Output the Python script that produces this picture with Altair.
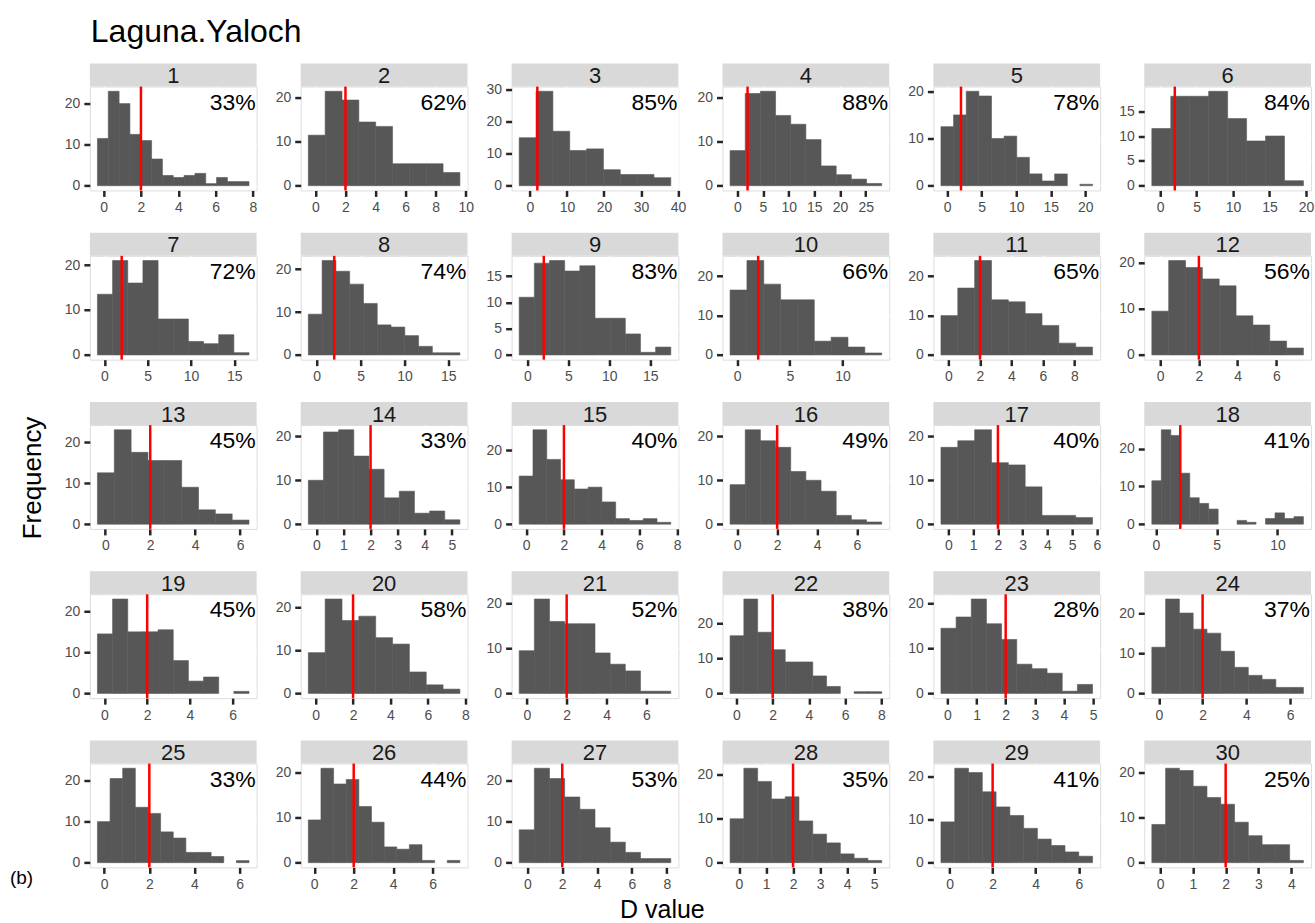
import altair as alt
import pandas as pd

# ---------------- data ----------------
PANELS = list(range(1, 31))
PCT = [33, 62, 85, 88, 78, 84, 72, 74, 83, 66, 65, 56, 45, 33, 40,
       49, 40, 41, 45, 58, 52, 38, 28, 37, 33, 44, 53, 35, 41, 25]
BIN_START = [-0.33, -0.47, -2.9, -1.4, -0.9, -1.15, -0.8, -0.95, -1.0, -0.67,
             -0.48, -0.43, -0.35, -0.3, -0.37, -0.36, -0.3, -0.34, -0.33, -0.39,
             -0.38, -0.35, -0.22, -0.32, -0.3, -0.3, -0.47, -0.33, -0.4, -0.25]
BIN_WIDTH = [0.58, 1.12, 4.55, 2.95, 1.83, 2.6, 1.75, 1.57, 1.85, 1.6,
             1.07, 0.87, 0.75, 0.56, 0.73, 0.76, 0.68, 0.78, 0.71, 0.9,
             0.76, 0.76, 0.52, 0.63, 0.56, 0.64, 0.87, 0.51, 0.64, 0.42]
COUNTS = [
    [11.5, 23, 20, 12.5, 11, 6.5, 2.5, 2, 2.5, 3, 0.5, 2, 1, 1],
    [11.5, 21.5, 19.5, 14.5, 13.5, 5, 5, 5, 3],
    [15, 29.5, 17, 11, 11.5, 5, 3.5, 3.5, 2.5],
    [8, 21, 21.5, 16, 14, 10.5, 4.5, 2.5, 1.5, 0.5],
    [12.5, 15, 20, 19, 10, 10.5, 6, 2.5, 1, 2.5, 0, 0.3],
    [11.5, 18, 18, 19, 13.5, 9, 10, 1],
    [13.5, 21, 16, 21, 8, 8, 3, 2.5, 4.5, 0.5],
    [9.5, 22, 19.5, 16.5, 12, 7, 6.5, 4.5, 2, 0.5, 0.5],
    [11, 17.5, 18, 16, 17, 7, 7, 4, 0.5, 1.5],
    [16.5, 24, 18, 14, 14, 3.5, 4.5, 2, 0.5],
    [10, 17, 24, 14, 13.5, 10.5, 7.5, 3, 2],
    [9.5, 20.5, 19, 16.5, 15, 8.5, 6.5, 3, 1.5],
    [12.5, 23, 17.5, 15.5, 15.5, 9, 3.5, 2.5, 1],
    [10, 21, 21.5, 15.5, 12.5, 6, 7.5, 2.5, 3, 1],
    [13, 25.5, 17.5, 12, 9.5, 10, 6, 1.5, 1, 1.5, 0.5],
    [9, 21.5, 19, 17.5, 12, 10, 7.5, 2, 1, 0.5],
    [17.5, 19, 21.5, 14, 13.5, 8.5, 2, 2, 1.5],
    [11.5, 25, 23.5, 13.5, 7, 5.5, 4, 0, 0, 1, 0.5, 0, 1.5, 3, 1.5, 2],
    [14.5, 23, 15, 15, 15.5, 8, 3, 4, 0, 0.5],
    [9.5, 22, 17, 18, 13, 11.5, 5, 2, 1],
    [9.5, 21, 16, 15.5, 15.5, 9, 6.5, 5, 0.5, 0.5],
    [16.5, 27, 17.5, 12.5, 9, 9, 5, 2, 0, 0.5, 0.5],
    [14.5, 17, 21, 15.5, 12, 6.5, 5.5, 4.5, 0.5, 2],
    [11.5, 23.5, 20, 16, 15, 10.5, 6.5, 4.5, 3.5, 1.5, 1.5],
    [10, 20.5, 23, 13.5, 12, 7.5, 6, 2.5, 2.5, 1.5, 0, 0.5],
    [9.5, 21, 17.5, 18.5, 12.5, 9, 3.5, 3, 4, 0.5, 0, 0.5],
    [8, 23, 20.5, 16, 13, 8.5, 5, 2.5, 1, 1],
    [10, 21.5, 18.5, 14.5, 15, 9.5, 6.5, 4.5, 2, 1, 0.5],
    [9.5, 22, 21, 16.5, 13, 11, 8, 5.5, 4, 2.5, 1.5],
    [8.5, 21, 20.5, 17, 14.5, 13, 9, 6, 4, 4, 0.5],
]
X_TICKS = [
    [0, 2, 4, 6, 8], [0, 2, 4, 6, 8, 10], [0, 10, 20, 30, 40], [0, 5, 10, 15, 20, 25],
    [0, 5, 10, 15, 20], [0, 5, 10, 15, 20],
    [0, 5, 10, 15], [0, 5, 10, 15], [0, 5, 10, 15], [0, 5, 10], [0, 2, 4, 6, 8], [0, 2, 4, 6],
    [0, 2, 4, 6], [0, 1, 2, 3, 4, 5], [0, 2, 4, 6, 8], [0, 2, 4, 6], [0, 1, 2, 3, 4, 5, 6], [0, 5, 10],
    [0, 2, 4, 6], [0, 2, 4, 6, 8], [0, 2, 4, 6], [0, 2, 4, 6, 8], [0, 1, 2, 3, 4, 5], [0, 2, 4, 6],
    [0, 2, 4, 6], [0, 2, 4, 6], [0, 2, 4, 6, 8], [0, 1, 2, 3, 4, 5], [0, 2, 4, 6], [0, 1, 2, 3, 4],
]
Y_TICKS = [[0, 10, 20]] * 30
Y_TICKS[2] = [0, 10, 20, 30]
Y_TICKS[5] = [0, 5, 10, 15]
Y_TICKS[8] = [0, 5, 10, 15]
THRESHOLD = 2

TITLE = "Laguna.Yaloch"
X_TITLE = "D value"
Y_TITLE = "Frequency"
TAG = "(b)"

# ---------------- layout ----------------
W, H = 167, 104
STRIP = 23
COL_SP, ROW_SP = 44.2, 65.5
LEFT, TOP = 89, 85
FONT = "Liberation Sans"
BAR = "#575757"


def make_panel(k):
    p = PANELS[k]
    start, bw, cnt = BIN_START[k], BIN_WIDTH[k], COUNTS[k]
    n = len(cnt)
    df = pd.DataFrame({
        "x0": [start + i * bw for i in range(n)],
        "x1": [start + (i + 1) * bw for i in range(n)],
        "count": cnt,
    })
    df = df[df["count"] > 0]
    lo, hi = start, start + n * bw
    pad = 0.05 * (hi - lo)
    ymax = max(cnt)
    xs = alt.Scale(domain=[lo - pad, hi + pad], nice=False, zero=False)
    ys = alt.Scale(domain=[-0.05 * ymax, 1.05 * ymax], nice=False, zero=False)
    common = dict(title=None, domain=False, grid=True, gridColor="white", gridWidth=1.2,
                  tickColor="#262626", tickWidth=2.5, tickSize=6, labelColor="#4D4D4D",
                  labelFontSize=14, labelFont=FONT, labelOverlap=False, labelFlush=False)
    xaxis = alt.Axis(values=X_TICKS[k], labelPadding=4, **common)
    yaxis = alt.Axis(values=Y_TICKS[k], labelPadding=4, **common)

    one = alt.Chart(pd.DataFrame({"panel": [str(p)], "pct": [f"{PCT[k]}%"],
                                  "thr": [THRESHOLD]}))
    bars = alt.Chart(df).mark_rect(color=BAR, stroke=BAR, strokeWidth=0.6).encode(
        x=alt.X("x0:Q", scale=xs, axis=xaxis),
        x2="x1:Q",
        y=alt.Y("count:Q", scale=ys, axis=yaxis),
        y2=alt.datum(0),
    )
    strip = one.mark_rect(color="#D9D9D9").encode(
        x=alt.value(0), x2=alt.value(W), y=alt.value(-STRIP), y2=alt.value(0))
    strip_txt = one.mark_text(fontSize=22, font=FONT, color="#1A1A1A", baseline="middle").encode(
        text="panel:N", x=alt.value(W / 2), y=alt.value(-STRIP / 2 + 1))
    rule = one.mark_rule(color="#FF0000", strokeWidth=2.5).encode(
        x=alt.X("thr:Q", scale=xs, axis=xaxis))
    pct = one.mark_text(fontSize=23, font=FONT, color="black", align="right",
                        baseline="alphabetic").encode(
        text="pct:N", x=alt.value(W - 1), y=alt.value(23))
    layers = [strip, strip_txt, bars, rule, pct]

    if k == 0:
        layers.append(one.mark_text(fontSize=32, font=FONT, color="black", align="left",
                                    baseline="alphabetic").encode(
            text=alt.value(TITLE), x=alt.value(1), y=alt.value(-45)))
        layers.append(one.mark_rect(color="white").encode(
            x=alt.value(-LEFT), x2=alt.value(-LEFT + 1), y=alt.value(-TOP), y2=alt.value(-TOP + 1)))
    if k == 12:
        layers.append(one.mark_text(fontSize=26, font=FONT, color="black", angle=270,
                                    baseline="middle").encode(
            text=alt.value(Y_TITLE), x=alt.value(-57), y=alt.value(53)))
    if k == 24:
        layers.append(one.mark_text(fontSize=19, font=FONT, color="black", align="left",
                                    baseline="middle").encode(
            text=alt.value(TAG), x=alt.value(-80), y=alt.value(115)))
    if k == 26:
        layers.append(one.mark_text(fontSize=25, font=FONT, color="black",
                                    baseline="middle").encode(
            text=alt.value(X_TITLE), x=alt.value(151), y=alt.value(147)))
    if k == 29:
        layers.append(one.mark_rect(color="white").encode(
            x=alt.value(W + 2), x2=alt.value(W + 3), y=alt.value(H + 55), y2=alt.value(H + 56)))
    return alt.layer(*layers).properties(width=W, height=H)


chart = alt.concat(
    *[make_panel(k) for k in range(30)], columns=6,
    spacing={"row": ROW_SP, "column": COL_SP},
).properties(bounds="flush", padding=0).configure_view(
    fill="#F4F5F7", stroke=None
).configure(font=FONT, background="white")

chart.save("out.html", embed_options={"renderer": "svg", "actions": False})
